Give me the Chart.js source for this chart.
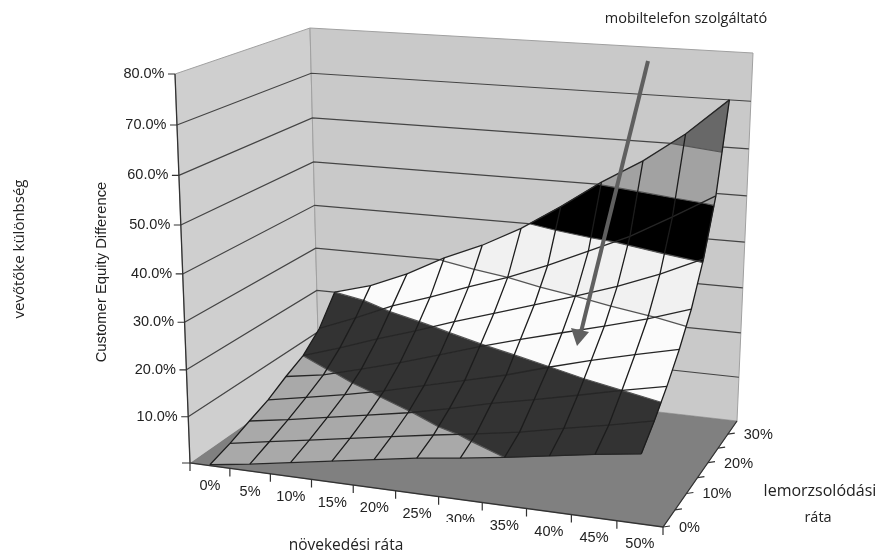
<!DOCTYPE html>
<html lang="hu">
<head>
<meta charset="utf-8">
<title>Customer Equity Difference</title>
<script src="https://cdn.jsdelivr.net/npm/chart.js@4/dist/chart.umd.min.js"></script>
<style>
  html, body { margin: 0; background: #ffffff; }
  canvas { display: block; }
</style>
</head>
<body>
<canvas id="surfaceChart" width="879" height="556"></canvas>
<script>
const growthLabels = ["0%", "5%", "10%", "15%", "20%", "25%", "30%", "35%", "40%", "45%", "50%"];
const churnLabels = ["0%", "10%", "20%", "30%"];
const valueLabels = ["10.0%", "20.0%", "30.0%", "40.0%", "50.0%", "60.0%", "70.0%", "80.0%"];
const valueLevels = [10, 20, 30, 40, 50, 60, 70, 80];

// surface height in percent, one array per churn row (front to back), one value per growth rate
const churnRow0 = [0.2, 1.5, 3.0, 4.5, 6.0, 7.5, 8.7, 10.0, 11.5, 13.0, 14.3];
const churnRow1 = [1.7, 3.2, 4.7, 6.2, 7.7, 9.2, 10.6, 12.1, 14.0, 15.8, 17.8];
const churnRow2 = [3.6, 5.0, 6.6, 8.2, 9.8, 11.8, 14.0, 15.9, 17.9, 20.0, 21.9];
const churnRow3 = [5.4, 7.0, 8.7, 10.6, 12.8, 15.0, 17.2, 19.9, 22.4, 24.6, 26.7];
const churnRow4 = [7.9, 9.3, 11.6, 14.1, 16.8, 19.6, 22.2, 24.6, 27.0, 29.5, 32.5];
const churnRow5 = [10.0, 12.8, 15.8, 18.6, 21.6, 24.4, 27.2, 30.0, 33.0, 36.5, 40.6];
const churnRow6 = [13.8, 17.2, 20.9, 23.8, 27.0, 30.0, 33.5, 37.5, 41.5, 46.5, 51.7];
const churnRow7 = [20.0, 22.4, 26.0, 30.5, 34.2, 38.8, 44.4, 50.5, 55.8, 62.2, 70.0];
const surface = [churnRow0, churnRow1, churnRow2, churnRow3, churnRow4, churnRow5, churnRow6, churnRow7];

const bandEdges = [0, 10, 20, 30, 40, 50, 60, 70, 80];
const bandColors = ["#a9a9a9", "#333333", "#fbfbfb", "#f1f1f1", "#000000", "#a2a2a2", "#686868", "#686868"];

const depthBins = 7;
const growthBins = 11;

// view of the 3d box: corners on the floor and at the 80% level
const floorCorners = { fl: [190, 463], fr: [663, 527], bl: [319, 373], br: [737, 421] };
const topCorners = { fl: [175, 74], fr: [673, 115], bl: [310, 28], br: [753, 53] };

function bilerp(c, u, v) {
  const front = [c.fl[0] + (c.fr[0] - c.fl[0]) * u, c.fl[1] + (c.fr[1] - c.fl[1]) * u];
  const back = [c.bl[0] + (c.br[0] - c.bl[0]) * u, c.bl[1] + (c.br[1] - c.bl[1]) * u];
  return [front[0] + (back[0] - front[0]) * v, front[1] + (back[1] - front[1]) * v];
}

// u, v, z all run from 0 to 1, the small terms are the perspective shrink
function project(u, v, z) {
  const uu = u - 0.08 * u * (1 - u);
  const vv = v + 0.15 * v * (1 - v);
  const zz = z - 0.056 * z * (1 - z);
  const a = bilerp(floorCorners, uu, vv);
  const b = bilerp(topCorners, uu, vv);
  return { x: a[0] + (b[0] - a[0]) * zz, y: a[1] + (b[1] - a[1]) * zz };
}

const gap = { x: NaN, y: NaN };

function gridPoint(p) {
  return project((p.j + 0.5) / growthBins, p.i / depthBins, p.z / 80);
}

function clipAbove(poly, level, keepAbove) {
  const out = [];
  for (let k = 0; k < poly.length; k++) {
    const a = poly[k];
    const b = poly[(k + 1) % poly.length];
    const aIn = keepAbove ? a.z >= level : a.z <= level;
    const bIn = keepAbove ? b.z >= level : b.z <= level;
    if (aIn) out.push(a);
    if (aIn !== bIn) {
      const t = (level - a.z) / (b.z - a.z);
      out.push({ j: a.j + (b.j - a.j) * t, i: a.i + (b.i - a.i) * t, z: level });
    }
  }
  return out;
}

function cellCorners(i, j) {
  return [
    { j, i, z: surface[i][j] },
    { j: j + 1, i, z: surface[i][j + 1] },
    { j: j + 1, i: i + 1, z: surface[i + 1][j + 1] },
    { j, i: i + 1, z: surface[i + 1][j] },
  ];
}

function polygon(points, color, border, width) {
  return {
    data: points,
    showLine: true,
    fill: "shape",
    backgroundColor: color,
    borderColor: border || color,
    borderWidth: width === undefined ? 0.6 : width,
    pointRadius: 0,
    tension: 0,
  };
}

function polyline(points, color, width) {
  return {
    data: points,
    showLine: true,
    fill: false,
    borderColor: color,
    borderWidth: width,
    pointRadius: 0,
    tension: 0,
  };
}

function buildDatasets() {
  const sets = [];

  // walls and floor
  sets.push(polygon([project(0, 0, 0), project(0, 0, 1), project(0, 1, 1), project(0, 1, 0)], "#cfcfcf", "#a0a0a0", 1));
  sets.push(polygon([project(0, 1, 0), project(0, 1, 1), project(1, 1, 1), project(1, 1, 0)], "#c9c9c9", "#a0a0a0", 1));
  sets.push(polygon([project(0, 0, 0), project(1, 0, 0), project(1, 1, 0), project(0, 1, 0)], "#808080", "#808080", 0.6));

  valueLevels.slice(0, -1).forEach(level => {
    const z = level / 80;
    sets.push(polyline([project(0, 0, z), project(0, 1, z), project(1, 1, z)], "#444444", 1.2));
  });

  // surface, back rows first, each cell cut along the value bands
  for (let i = depthBins - 1; i >= 0; i--) {
    for (let j = 0; j < growthBins - 1; j++) {
      bandColors.forEach((color, b) => {
        let poly = clipAbove(cellCorners(i, j), bandEdges[b], true);
        if (poly.length) poly = clipAbove(poly, bandEdges[b + 1], false);
        if (poly.length > 2) sets.push(polygon(poly.map(gridPoint), color));
      });
    }
  }

  // contour lines where the bands meet
  const contourPoints = [];
  [10, 20, 30, 40, 50, 60].forEach(level => {
    for (let i = 0; i < depthBins; i++) {
      for (let j = 0; j < growthBins - 1; j++) {
        const c = cellCorners(i, j);
        const hits = [];
        c.forEach((a, k) => {
          const b = c[(k + 1) % 4];
          if ((a.z < level) !== (b.z < level)) {
            const t = (level - a.z) / (b.z - a.z);
            hits.push(gridPoint({ j: a.j + (b.j - a.j) * t, i: a.i + (b.i - a.i) * t, z: level }));
          }
        });
        if (hits.length >= 2) contourPoints.push(hits[0], hits[1], gap);
      }
    }
  });
  sets.push(polyline(contourPoints, "#555555", 1.2));

  // surface mesh
  surface.forEach((row, i) => {
    sets.push(polyline(row.map((z, j) => gridPoint({ j, i, z })), "#262626", 1.3));
  });
  growthLabels.forEach((_, j) => {
    sets.push(polyline(surface.map((row, i) => gridPoint({ j, i, z: row[j] })), "#1c1c1c", 1.3));
  });

  // axes and tick marks
  sets.push(polyline([project(0, 0, 1), project(0, 0, 0), project(1, 0, 0), project(1, 1, 0)], "#333333", 1.3));
  const ticks = [];
  valueLevels.forEach(level => {
    const p = project(0, 0, level / 80);
    ticks.push({ x: p.x - 7, y: p.y }, p, gap);
  });
  const origin = project(0, 0, 0);
  ticks.push({ x: origin.x - 8, y: origin.y }, origin, gap);
  for (let k = 0; k <= growthBins; k++) {
    const p = project(k / growthBins, 0, 0);
    ticks.push(p, { x: p.x, y: p.y + 8 }, gap);
  }
  for (let k = 0; k <= depthBins - 1; k++) {
    const p = project(1, k / depthBins, 0);
    ticks.push(p, { x: p.x + 7, y: p.y - 1 }, gap);
  }
  sets.push(polyline(ticks, "#333333", 1.2));

  return sets;
}

function putText(ctx, text, x, y, font, align, angle) {
  ctx.save();
  ctx.translate(x, y);
  if (angle) ctx.rotate(angle);
  ctx.font = font;
  ctx.textAlign = align;
  ctx.textBaseline = "middle";
  ctx.fillStyle = "#222222";
  ctx.fillText(text, 0, 0);
  ctx.restore();
}

const labelsPlugin = {
  id: "boxLabels",
  afterDatasetsDraw(chart) {
    const ctx = chart.ctx;
    const axisFont = '14.5px "Liberation Sans"';
    const noteFont = '14.5px "Open Sans"';

    valueLabels.forEach((label, k) => {
      const p = project(0, 0, valueLevels[k] / 80);
      putText(ctx, label, p.x - 10.5, p.y, axisFont, "right");
    });
    growthLabels.forEach((label, k) => {
      const p = project((k + 0.5) / growthBins, 0, 0);
      putText(ctx, label, p.x, p.y + 20.5, axisFont, "center");
    });
    churnLabels.forEach((label, k) => {
      const p = project(1, (k * 2) / depthBins, 0);
      putText(ctx, label, p.x + 16, p.y + 1, axisFont, "left");
    });
    putText(ctx, "Customer Equity Difference", 102, 272, '14.8px "Liberation Sans"', "center", -Math.PI / 2);

    // the text box of the caption covers part of the 30% label in the source
    ctx.fillStyle = "#ffffff";
    ctx.fillRect(250, 522, 228, 34);

    // arrow
    ctx.strokeStyle = "#5f5f5f";
    ctx.lineWidth = 4;
    ctx.beginPath();
    ctx.moveTo(648, 61);
    ctx.lineTo(581, 332);
    ctx.stroke();
    ctx.fillStyle = "#5f5f5f";
    ctx.beginPath();
    ctx.moveTo(577, 346);
    ctx.lineTo(571, 328);
    ctx.lineTo(589, 332);
    ctx.closePath();
    ctx.fill();

    putText(ctx, "mobiltelefon szolgáltató", 686, 19, noteFont, "center");
    putText(ctx, "vevőtőke különbség", 20, 249, '15px "Open Sans"', "center", -Math.PI / 2);
    putText(ctx, "növekedési ráta", 346, 546, '15.5px "Open Sans"', "center");
    putText(ctx, "lemorzsolódási", 820, 491, '16px "Open Sans"', "center");
    putText(ctx, "ráta", 818, 518, noteFont, "center");
  },
};

new Chart(document.getElementById("surfaceChart"), {
  type: "scatter",
  data: { datasets: buildDatasets().reverse() },
  options: {
    responsive: false,
    animation: false,
    events: [],
    layout: { padding: 0 },
    plugins: {
      legend: { display: false },
      tooltip: { enabled: false },
    },
    scales: {
      x: { type: "linear", display: false, min: 0, max: 879 },
      y: { type: "linear", display: false, min: 0, max: 556, reverse: true },
    },
  },
  plugins: [labelsPlugin],
});
</script>
</body>
</html>
